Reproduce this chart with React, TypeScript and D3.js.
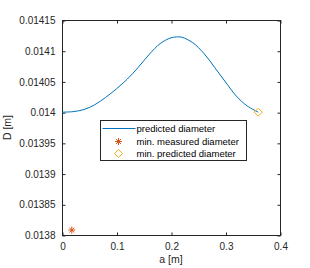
import React, { useEffect, useRef } from 'react';
import * as d3 from 'd3';

// predicted diameter curve
const aValues = [0, 0.02, 0.04, 0.06, 0.08, 0.1, 0.12, 0.14, 0.16, 0.18, 0.2, 0.213, 0.22, 0.24, 0.26, 0.28, 0.3, 0.32, 0.34, 0.36];
const dValues = [0.014, 0.0140008, 0.0140042, 0.014012, 0.014024, 0.014038, 0.014054, 0.014073, 0.014094, 0.0141115, 0.014121, 0.0141225, 0.014122, 0.014113, 0.014096, 0.014073, 0.014049, 0.014026, 0.01401, 0.014];

const measuredMin = [0.018, 0.013808];
const predictedMin = [0.36, 0.014];

const xTicks = [0, 0.1, 0.2, 0.3, 0.4];
const yTicks = [0.0138, 0.01385, 0.0139, 0.01395, 0.014, 0.01405, 0.0141, 0.01415];
const yTickLabels = ['0.0138', '0.01385', '0.0139', '0.01395', '0.014', '0.01405', '0.0141', '0.01415'];

const legendLabels = ['predicted diameter', 'min. measured diameter', 'min. predicted diameter'];

const App: React.FC = () => {
    const svgRef = useRef<SVGSVGElement>(null);

    useEffect(() => {
        if (!svgRef.current) return;
        const width = 310;
        const height = 268;
        const margin = { top: 20, right: 30, bottom: 33, left: 62 };
        const innerWidth = width - margin.left - margin.right;
        const innerHeight = height - margin.top - margin.bottom;
        const axisColor = '#262626';
        const font = 'Liberation Sans, Arial, sans-serif';

        const svg = d3.select(svgRef.current);
        svg.selectAll('*').remove();

        const g = svg.append('g').attr('transform', `translate(${margin.left},${margin.top})`);

        const x = d3.scaleLinear().domain([0, 0.4]).range([0, innerWidth]);
        const y = d3.scaleLinear().domain([0.0138, 0.01415]).range([innerHeight, 0]);

        // box
        g.append('rect')
            .attr('x', 0.5)
            .attr('y', 0.5)
            .attr('width', innerWidth)
            .attr('height', innerHeight)
            .attr('fill', 'none')
            .attr('stroke', axisColor)
            .attr('stroke-width', 1);

        const tickLen = 3;
        const xAxisG = g.append('g').attr('transform', `translate(0.5,${innerHeight + 0.5})`)
            .call(d3.axisBottom(x).tickValues(xTicks).tickFormat(d3.format('')).tickSizeInner(-tickLen).tickSizeOuter(0).tickPadding(7));
        const xTopG = g.append('g').attr('transform', 'translate(0.5,0.5)')
            .call(d3.axisTop(x).tickValues(xTicks).tickSizeInner(-tickLen).tickSizeOuter(0).tickFormat(() => ''));
        const yAxisG = g.append('g').attr('transform', 'translate(0.5,0.5)')
            .call(d3.axisLeft(y).tickValues(yTicks).tickFormat((_, i) => yTickLabels[i]).tickSizeInner(-tickLen).tickSizeOuter(0).tickPadding(7));
        const yRightG = g.append('g').attr('transform', `translate(${innerWidth + 0.5},0.5)`)
            .call(d3.axisRight(y).tickValues(yTicks).tickSizeInner(-tickLen).tickSizeOuter(0).tickFormat(() => ''));

        [xAxisG, xTopG, yAxisG, yRightG].forEach(a => {
            a.select('.domain').remove();
            a.selectAll('line').attr('stroke', axisColor);
            a.selectAll('text').attr('fill', axisColor).style('font-family', font).style('font-size', '10px');
        });

        // curve
        const line = d3.line<number>()
            .x((_, i) => x(aValues[i]))
            .y(d => y(d))
            .curve(d3.curveCatmullRom.alpha(0.5));
        g.append('path')
            .datum(dValues)
            .attr('d', line)
            .attr('fill', 'none')
            .attr('stroke', '#0072BD')
            .attr('stroke-width', 1);

        const star = (sel: d3.Selection<SVGGElement, unknown, null, undefined>, cx: number, cy: number) => {
            const r = 3.5;
            const p = sel.append('g').attr('transform', `translate(${cx},${cy})`)
                .attr('stroke', '#D95319').attr('stroke-width', 1);
            p.append('line').attr('x1', -r).attr('x2', r).attr('y1', 0).attr('y2', 0);
            p.append('line').attr('x1', 0).attr('x2', 0).attr('y1', -r).attr('y2', r);
            p.append('line').attr('x1', -r * 0.7).attr('x2', r * 0.7).attr('y1', -r * 0.7).attr('y2', r * 0.7);
            p.append('line').attr('x1', -r * 0.7).attr('x2', r * 0.7).attr('y1', r * 0.7).attr('y2', -r * 0.7);
        };
        const diamond = (sel: d3.Selection<SVGGElement, unknown, null, undefined>, cx: number, cy: number) => {
            const r = 4;
            sel.append('path')
                .attr('d', `M${cx},${cy - r}L${cx + r},${cy}L${cx},${cy + r}L${cx - r},${cy}Z`)
                .attr('fill', 'none')
                .attr('stroke', '#EDB120')
                .attr('stroke-width', 1);
        };

        star(g, x(measuredMin[0]), y(measuredMin[1]));
        diamond(g, x(predictedMin[0]), y(predictedMin[1]));

        // legend
        const lg = svg.append('g').attr('transform', 'translate(100.5,120.5)');
        lg.append('rect')
            .attr('width', 146)
            .attr('height', 40)
            .attr('fill', 'white')
            .attr('stroke', axisColor)
            .attr('stroke-width', 1);
        const rowY = [8, 21, 33];
        lg.append('line').attr('x1', 2).attr('x2', 35).attr('y1', rowY[0]).attr('y2', rowY[0])
            .attr('stroke', '#0072BD').attr('stroke-width', 1);
        star(lg, 18, rowY[1]);
        diamond(lg, 18, rowY[2]);
        lg.selectAll('text.lab')
            .data(legendLabels)
            .enter()
            .append('text')
            .attr('class', 'lab')
            .attr('x', 36)
            .attr('y', (_, i) => rowY[i])
            .attr('dy', '0.35em')
            .attr('fill', 'black')
            .style('font-family', font)
            .style('font-size', '9.5px')
            .text(d => d);

        // axis labels
        svg.append('text')
            .attr('x', margin.left + innerWidth / 2)
            .attr('y', 263)
            .attr('text-anchor', 'middle')
            .attr('fill', axisColor)
            .style('font-family', font)
            .style('font-size', '10.5px')
            .text('a [m]');
        svg.append('text')
            .attr('transform', `translate(11,${margin.top + innerHeight / 2}) rotate(-90)`)
            .attr('text-anchor', 'middle')
            .attr('fill', axisColor)
            .style('font-family', font)
            .style('font-size', '10.5px')
            .text('D [m]');
    }, []);

    return (
        <svg ref={svgRef} width={310} height={268} viewBox="0 0 310 268"
            style={{ position: 'absolute', left: 0, top: 0, background: 'white' }} />
    );
};

export default App;
